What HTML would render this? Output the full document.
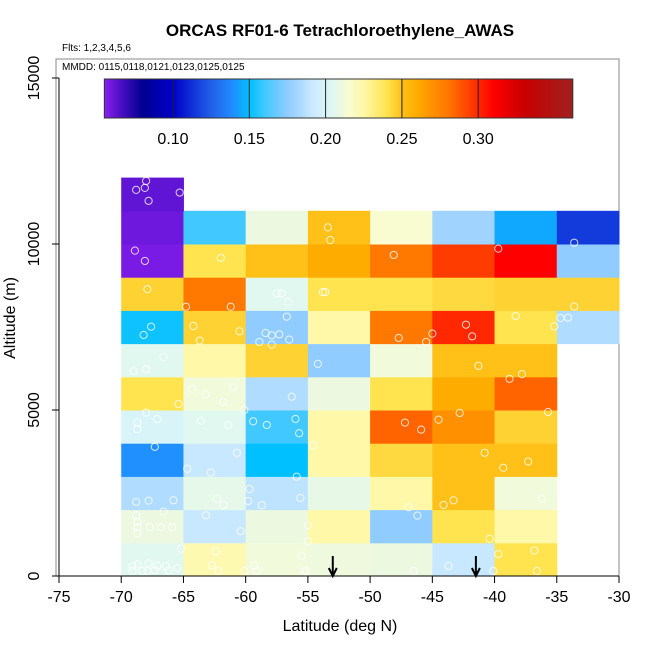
<!DOCTYPE html>
<html><head><meta charset="utf-8"><style>
html,body{margin:0;padding:0;background:#fff;}
svg{display:block;font-family:"Liberation Sans",sans-serif;}
</style></head><body>
<svg id="chart" width="650" height="650" viewBox="0 0 650 650"></svg>
<script>
// ---- data ----
const latBins = [-70,-65,-60,-55,-50,-45,-40,-35];
const altBins = [0,1000,2000,3000,4000,5000,6000,7000,8000,9000,10000,11000];
// rows: altitude bin (bottom to top), columns: latitude bin; null = no data
const cellValues = [
 [0.205,0.223,0.212,0.211,0.210,0.190,0.240,null],
 [0.210,0.190,0.210,0.225,0.175,0.240,0.225,null],
 [0.185,0.207,0.188,0.208,0.225,0.250,0.212,null],
 [0.140,0.190,0.150,0.225,0.243,0.250,0.250,null],
 [0.200,0.205,0.160,0.225,0.285,0.270,0.245,null],
 [0.240,0.212,0.185,0.210,0.240,0.260,0.285,null],
 [0.205,0.225,0.245,0.175,0.212,0.250,0.250,null],
 [0.152,0.245,0.175,0.225,0.280,0.300,0.240,0.185],
 [0.245,0.280,0.205,0.240,0.240,0.243,0.245,0.245],
 [0.058,0.240,0.250,0.260,0.280,0.295,0.310,0.175],
 [0.060,0.160,0.210,0.250,0.215,0.180,0.145,0.115],
 [0.062,null,null,null,null,null,null,null]
];
const sampleLat = [-68.0,-68.8,-68.1,-65.3,-67.8,-53.4,-53.2,-68.9,-68.1,-62.0,-48.1,-39.7,-33.6,-67.9,-64.8,-61.2,-57.5,-57.1,-56.6,-53.8,-53.6,-33.6,-67.6,-68.2,-64.2,-60.5,-63.7,-56.7,-58.4,-57.9,-57.3,-58.9,-57.9,-56.5,-47.7,-45.5,-45.0,-42.3,-41.8,-38.3,-35.2,-34.7,-34.1,-66.6,-68.0,-69.0,-54.2,-41.3,-37.8,-38.8,-64.3,-63.2,-61.0,-61.8,-65.4,-56.3,-60.1,-68.0,-68.7,-68.7,-67.1,-63.6,-61.4,-59.4,-58.3,-56.0,-55.7,-47.2,-45.9,-44.5,-42.8,-35.7,-67.3,-60.7,-64.7,-62.8,-54.6,-55.9,-40.8,-39.3,-37.3,-68.8,-67.8,-65.8,-66.6,-62.3,-61.8,-59.7,-59.8,-58.7,-55.6,-44.1,-43.3,-36.2,-46.9,-68.8,-68.7,-68.7,-68.7,-67.7,-66.8,-65.9,-63.2,-60.4,-55.0,-55.0,-46.2,-40.4,-65.2,-62.4,-62.7,-62.2,-69.1,-68.7,-67.8,-67.1,-66.4,-65.5,-69.1,-68.3,-67.9,-67.3,-66.2,-60.1,-59.3,-59.1,-55.5,-55.3,-55.1,-46.5,-43.7,-40.1,-39.7,-36.8,-36.6];
const sampleAlt = [11900,11630,11690,11550,11300,10500,10120,9800,9490,9580,9670,9860,10040,8640,8110,8110,8510,8510,8250,8550,8550,8120,7510,7260,7530,7370,7090,7810,7320,7250,7280,7050,6970,7120,7170,7050,7300,7570,7220,7830,7520,7770,7780,6600,6230,6170,6390,6330,6080,5940,5630,5470,5680,5240,5180,5400,5000,4920,4620,4420,4730,4680,4550,4660,4550,4730,4300,4620,4410,4710,4910,4940,3890,3710,3230,3120,3940,2990,3710,3260,3450,2230,2270,2280,1940,2320,2140,2620,2260,2130,2350,2140,2280,2320,2070,1830,1630,1470,1290,1470,1470,1470,1830,1350,1520,1050,1820,1120,820,740,320,150,300,350,380,310,300,240,150,150,150,180,170,150,320,150,610,150,150,150,300,150,660,770,150];
const arrowLat = [-53.0,-41.5];
const xTicks = [-75,-70,-65,-60,-55,-50,-45,-40,-35,-30];
const yTicks = [0,5000,10000,15000];
const cbTicks = [0.10,0.15,0.20,0.25,0.30];
const cbStopVals = [0.055,0.065,0.08,0.10,0.125,0.14,0.15,0.16,0.175,0.185,0.19,0.20,0.205,0.21,0.215,0.225,0.24,0.25,0.26,0.27,0.28,0.29,0.30,0.31,0.33,0.362];
const cbStopCols = ["#8a20f0","#5010c8","#000090","#0000c8","#2060e8","#2090ff","#00c0ff","#40c8ff","#90ccff","#b0dcff","#c8e8ff","#d8f4f8","#e0f8f0","#ecf8e0","#f8fcd0","#fff8a8","#ffe450","#ffc018","#ffac00","#ff9000","#ff7800","#ff5000","#ff2800","#ff0000","#c80000","#a02020"];

// ---- scales ----
const X = v => 59 + (v + 75) * (560 / 45);
const Y = v => 576 - v * (498 / 15000);
const CB = v => 173 + (v - 0.10) / 0.05 * 76.3;
function hex(c){return [1,3,5].map(i=>parseInt(c.substr(i,2),16));}
function colorOf(v){
  if (v <= cbStopVals[0]) return cbStopCols[0];
  for (let i=1;i<cbStopVals.length;i++){
    if (v <= cbStopVals[i]){
      const t=(v-cbStopVals[i-1])/(cbStopVals[i]-cbStopVals[i-1]);
      const a=hex(cbStopCols[i-1]), b=hex(cbStopCols[i]);
      return "rgb("+a.map((x,k)=>Math.round(x+(b[k]-x)*t)).join(",")+")";
    }
  }
  return cbStopCols[cbStopCols.length-1];
}
const NS="http://www.w3.org/2000/svg";
const svg=document.getElementById('chart');
function mk(tag,attrs,parent,text){const e=document.createElementNS(NS,tag);for(const k in attrs)e.setAttribute(k,attrs[k]);if(text!==undefined)e.textContent=text;(parent||svg).appendChild(e);return e;}

// title
let t=mk('text',{x:340,y:36,'text-anchor':'middle','font-size':17,'font-weight':'bold'},svg,'ORCAS RF01-6 Tetrachloroethylene_AWAS');


t=mk('text',{x:62,y:51,'font-size':10},svg,'Flts: 1,2,3,4,5,6');



// plot frame
let fr=mk('rect',{x:56,y:59,width:563,height:517,fill:'none',stroke:'#888','stroke-width':1});



// cells
const gCells=mk('g',{});


for(let r=0;r<altBins.length;r++){
  for(let c=0;c<latBins.length;c++){
    const v=cellValues[r][c]; if(v===null) continue;
    const x0=X(latBins[c]), x1=X(latBins[c]+5), y0=Y(altBins[r]+1000), y1=Y(altBins[r]);
    const rc=mk('rect',{x:x0,y:y0,width:x1-x0+0.5,height:y1-y0+0.5,fill:colorOf(v)},gCells);
    
    
  }
}
// samples
const gPts=mk('g',{});


for(let i=0;i<sampleLat.length;i++){
  const p=mk('circle',{cx:X(sampleLat[i]),cy:Y(sampleAlt[i]),r:3.6,fill:'none',stroke:'rgba(255,255,255,0.8)','stroke-width':1},gPts);
  
  
}
// arrows
for(const a of arrowLat){
  const g=mk('g',{stroke:'#000','stroke-width':2,fill:'none'});
  
  
  const x=X(a);
  mk('line',{x1:x,y1:556,x2:x,y2:576},g);
  mk('polyline',{points:(x-4)+',568 '+x+',576 '+(x+4)+',568'},g);
}
// MMDD label
t=mk('text',{x:62,y:70,'font-size':10},svg,'MMDD: 0115,0118,0121,0123,0125,0125');



// colorbar
const defs=mk('defs',{});
const lg=mk('linearGradient',{id:'cbg',x1:CB(cbStopVals[0]),x2:CB(cbStopVals[cbStopVals.length-1]),y1:0,y2:0,gradientUnits:'userSpaceOnUse'},defs);
cbStopVals.forEach((v,i)=>mk('stop',{offset:((v-cbStopVals[0])/(cbStopVals[cbStopVals.length-1]-cbStopVals[0])),'stop-color':cbStopCols[i]},lg));
const cb=mk('g',{});


mk('rect',{x:CB(cbStopVals[0]),y:79,width:CB(cbStopVals[cbStopVals.length-1])-CB(cbStopVals[0]),height:39,fill:'url(#cbg)',stroke:'#333','stroke-width':1},cb);
for(const v of cbTicks){
  mk('line',{x1:CB(v),x2:CB(v),y1:79,y2:118,stroke:'#222','stroke-width':1},cb);
  const l=mk('text',{x:CB(v),y:144,'text-anchor':'middle','font-size':16},cb,v.toFixed(2));
  
  
}

// axes
const xa=mk('g',{});


mk('line',{x1:X(-75),x2:X(-30),y1:576,y2:576,stroke:'#000'},xa);
for(const v of xTicks){
  mk('line',{x1:X(v),x2:X(v),y1:576,y2:583,stroke:'#000'},xa);
  const l=mk('text',{x:X(v),y:602,'text-anchor':'middle','font-size':16},xa,String(v));
  
  
}
const ya=mk('g',{});


mk('line',{x1:59,x2:59,y1:Y(0),y2:Y(15000),stroke:'#000'},ya);
for(const v of yTicks){
  mk('line',{x1:52,x2:59,y1:Y(v),y2:Y(v),stroke:'#000'},ya);
  const l=mk('text',{x:39,y:Y(v),'text-anchor':'middle','font-size':16,transform:'rotate(-90 39 '+Y(v)+')'},ya,String(v));
  
  
}
t=mk('text',{x:340,y:631,'text-anchor':'middle','font-size':16},svg,'Latitude (deg N)');


t=mk('text',{x:15,y:318,'text-anchor':'middle','font-size':16,transform:'rotate(-90 15 318)'},svg,'Altitude (m)');


</script>
</body></html>
